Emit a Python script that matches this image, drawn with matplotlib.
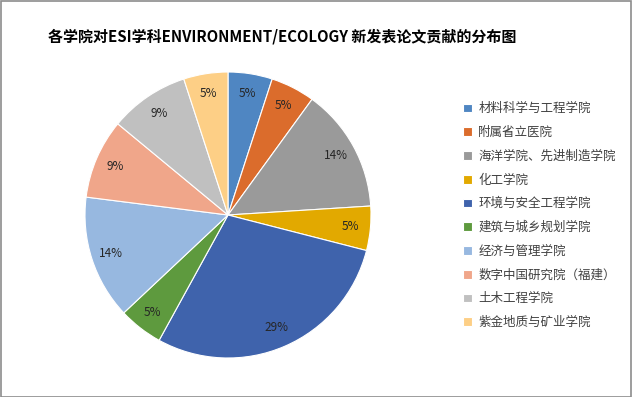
import matplotlib.pyplot as plt
from matplotlib.patches import Rectangle

plt.rcParams['font.family'] = ['Noto Sans CJK SC', 'DejaVu Sans']

colleges = ['材料科学与工程学院', '附属省立医院', '海洋学院、先进制造学院', '化工学院',
            '环境与安全工程学院', '建筑与城乡规划学院', '经济与管理学院',
            '数字中国研究院（福建）', '土木工程学院', '紫金地质与矿业学院']
shares = [5, 5, 14, 5, 29, 5, 14, 9, 9, 5]
colors = ['#4F86C2', '#DB6C2C', '#9A9A9A', '#E2A900', '#3F63AC',
          '#5E9A3E', '#97B8E0', '#F0A68A', '#C0C0C0', '#FDCF86']

fig = plt.figure(figsize=(6.32, 3.97), dpi=100)
fig.patches.append(Rectangle((0.001, 0.001), 0.997, 0.996, transform=fig.transFigure,
                             fill=False, edgecolor='#8C8C8C', lw=1.2))

ax = fig.add_axes([(228 - 143) / 632, (182 - 143) / 397, 286 / 632, 286 / 397])
wedges, texts, autotexts = ax.pie(shares, colors=colors, startangle=90, counterclock=False,
                                  autopct='%d%%', pctdistance=0.86,
                                  wedgeprops=dict(edgecolor='white', linewidth=0.8),
                                  textprops=dict(fontsize=8.5, color='#262626'))
ax.set_xlim(-1, 1)
ax.set_ylim(-1, 1)

fig.text(48 / 632, 1 - 37 / 397, '各学院对ESI学科ENVIRONMENT/ECOLOGY 新发表论文贡献的分布图',
         fontsize=10.8, fontweight='bold', va='center', ha='left', color='black')

fig.legend(wedges, colleges, loc='upper left', bbox_to_anchor=(452 / 632, 1 - 91 / 397),
           frameon=False, fontsize=9, labelspacing=0.86, handlelength=0.7,
           handleheight=0.7, handletextpad=0.5, labelcolor='#404040')

fig.savefig('out.png', dpi=100)
